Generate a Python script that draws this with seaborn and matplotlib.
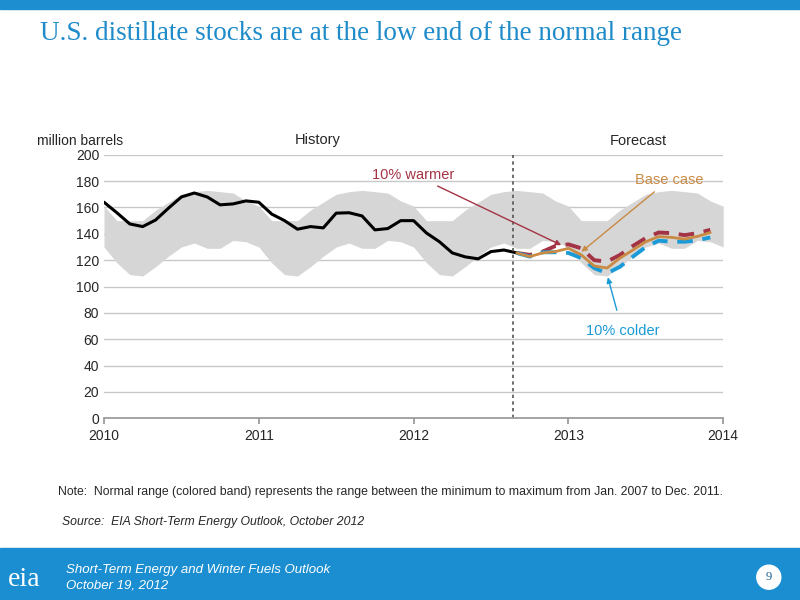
import numpy as np
import pandas as pd
import matplotlib
matplotlib.use("Agg")
import matplotlib.pyplot as plt
import seaborn as sns
from matplotlib.patches import Rectangle, Ellipse

sns.set_theme(style="white")
plt.rcParams['font.family'] = ['Liberation Sans', 'DejaVu Sans']

band_upper_month = [161, 150, 150, 150, 158, 164, 170, 172, 173, 172, 171, 165]
band_lower_month = [130, 118, 109, 108, 115, 123, 130, 133, 129, 129, 135, 134]
history = [164, 156, 147.5, 145.5, 150.5, 159.5, 168, 171, 168, 162, 162.7, 165,
           164, 155, 150, 143.5, 145.5, 144.5, 155.7, 156, 153.6, 143, 144, 150,
           150, 140.6, 134, 125.5, 122.5, 121, 126.5, 127.7, 125.5]
base_case = [125.5, 122.7, 125.5, 126.5, 129, 124, 115.6, 114, 121.6, 127.7, 134, 137.9, 137.3, 136, 138, 141]
warmer = [125.5, 124, 126.5, 130.8, 132, 129, 120, 118.9, 124, 130.8, 136.8, 141, 140.5, 139, 140.5, 143]
colder = [125.5, 122.7, 126, 126, 125.5, 121.6, 114, 110, 115, 122.7, 130, 134.8, 134, 134, 135, 137.3]
years = [2010, 2011, 2012, 2013, 2014]

t_all = 2010 + np.arange(49) / 12
band = pd.DataFrame({"t": t_all,
                     "upper": (band_upper_month * 5)[:49],
                     "lower": (band_lower_month * 5)[:49]})
hist = pd.DataFrame({"t": t_all[:len(history)], "v": history})
tf = t_all[len(history) - 1:len(history) - 1 + len(base_case)]
fc = pd.DataFrame({"t": tf, "base": base_case, "warm": warmer, "cold": colder})

fig = plt.figure(figsize=(8, 6), dpi=100)
fig.patches.append(Rectangle((0, 0.985), 1, 0.015, transform=fig.transFigure, color="#1d8fd0"))
fig.patches.append(Rectangle((0, 0), 1, 0.087, transform=fig.transFigure, color="#1a8ed1"))
fig.text(0.05, 0.945, "U.S. distillate stocks are at the low end of the normal range",
         family="Liberation Serif", fontsize=19.5, color="#1f8bc9", va="center")
fig.text(0.01, 0.035, "eia", color="white", fontsize=20, va="center", family="Liberation Serif")
fig.text(0.083, 0.05, "Short-Term Energy and Winter Fuels Outlook", color="white",
         fontsize=9.5, style="italic", va="center")
fig.text(0.083, 0.025, "October 19, 2012", color="white", fontsize=9.5, style="italic", va="center")
fig.patches.append(Ellipse((0.961, 0.038), 0.03, 0.04, transform=fig.transFigure, color="white"))
fig.text(0.961, 0.038, "9", color="#1a5f8f", fontsize=9, ha="center", va="center",
         family="Liberation Serif")

ax = fig.add_axes([0.13, 0.303, 0.774, 0.439])
ax.fill_between(band["t"], band["lower"], band["upper"], color="#d6d6d6", lw=0)
sns.lineplot(data=hist, x="t", y="v", ax=ax, color="black", lw=2.2)
sns.lineplot(data=fc, x="t", y="warm", ax=ax, color="#a33345", lw=2.8)
sns.lineplot(data=fc, x="t", y="cold", ax=ax, color="#1a9ad6", lw=2.8)
sns.lineplot(data=fc, x="t", y="base", ax=ax, color="#c98a44", lw=2)
for l in ax.lines[1:3]:
    l.set_linestyle((0, (4, 2.5)))

ax.axvline(2012.64, color="#555555", ls=(0, (2, 2)), lw=1.2)
ax.set_xlim(2010, 2014)
ax.set_ylim(0, 200)
ax.set_xticks(years)
ax.set_yticks(range(0, 201, 20))
ax.tick_params(labelsize=10, length=0)
ax.set_xlabel("")
ax.set_ylabel("")
ax.grid(axis="y", color="#c8c8c8", lw=1)
for s in ["top", "right", "left"]:
    ax.spines[s].set_visible(False)
ax.spines["bottom"].set_color("#999999")
ax.tick_params(axis="x", length=4, color="#999999", direction="out", bottom=True)

ax.text(2009.57, 205, "million barrels", fontsize=10, ha="left", va="bottom")
ax.text(2011.38, 206, "History", fontsize=10.5, ha="center", va="bottom")
ax.text(2013.45, 205, "Forecast", fontsize=10.5, ha="center", va="bottom")
ax.annotate("10% warmer", xy=(2012.97, 130.5), xytext=(2012.0, 185), color="#a33345",
            fontsize=10.5, ha="center", va="center",
            arrowprops=dict(arrowstyle="-|>", color="#a33345", lw=1, mutation_scale=8))
ax.annotate("Base case", xy=(2013.07, 125), xytext=(2013.65, 181), color="#c98a44",
            fontsize=10.5, ha="center", va="center",
            arrowprops=dict(arrowstyle="-|>", color="#c98a44", lw=1, mutation_scale=8))
ax.annotate("10% colder", xy=(2013.25, 109), xytext=(2013.35, 66), color="#1a9ad6",
            fontsize=10.5, ha="center", va="center",
            arrowprops=dict(arrowstyle="-|>", color="#1a9ad6", lw=1, mutation_scale=8,
                            shrinkA=8))

fig.text(0.072, 0.18, "Note:  Normal range (colored band) represents the range between the minimum to maximum from Jan. 2007 to Dec. 2011.",
         fontsize=8.8, va="center")
fig.text(0.078, 0.13, "Source:  EIA Short-Term Energy Outlook, October 2012", fontsize=8.8,
         style="italic", va="center")

fig.savefig("out.png", dpi=100)
